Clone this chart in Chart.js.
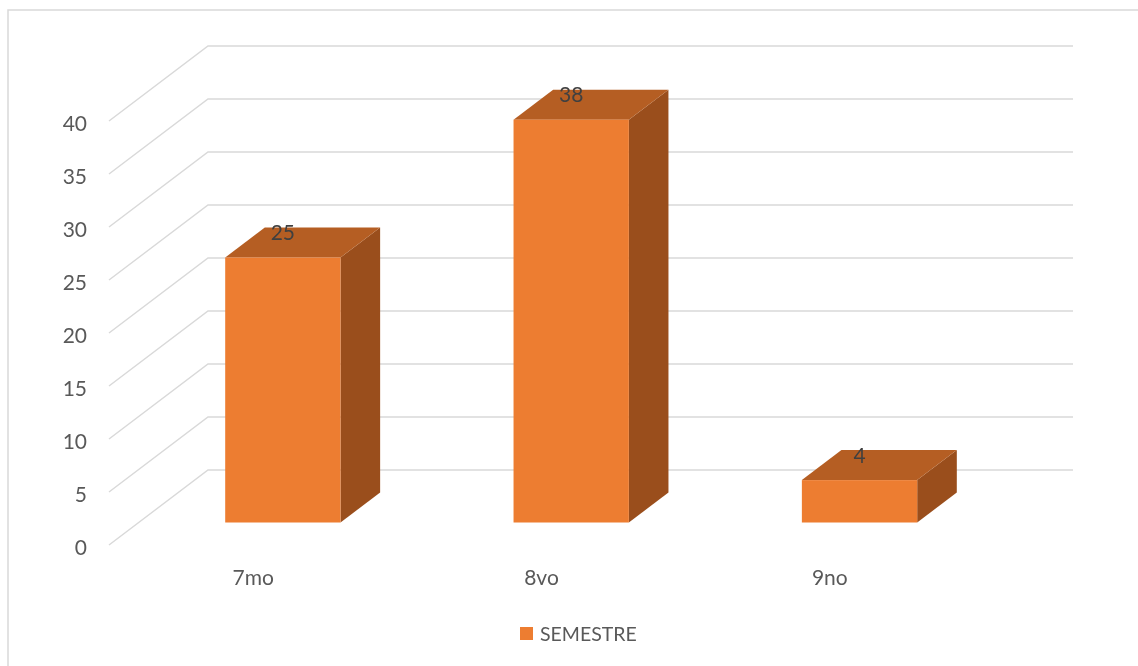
<!DOCTYPE html>
<html>
<head>
<meta charset="utf-8">
<script src="https://cdn.jsdelivr.net/npm/chart.js@4/dist/chart.umd.min.js"></script>
<style>
  html, body { margin: 0; padding: 0; background: #fff; }
  #wrap { width: 1138px; height: 666px; position: relative; }
</style>
</head>
<body>
<div id="wrap"><canvas id="chart"></canvas></div>
<script>
const categories = ['7mo', '8vo', '9no'];
const semestre = [25, 38, 4];
const seriesLabel = 'SEMESTRE';
const yTicks = [0, 5, 10, 15, 20, 25, 30, 35, 40];

const FRONT = '#ED7D31';
const TOP = '#B55E23';
const SIDE = '#9A4E1C';
const GRID = '#D9D9D9';
const TEXT = '#595959';

// depth offset of the back wall from the front edge of the floor
const DX = 99;
const DY = 75;
const FONT = 'Lato, "Open Sans", sans-serif';

const threeD = {
  id: 'threeD',
  beforeDraw(chart) {
    const { ctx } = chart;
    ctx.save();
    ctx.strokeStyle = GRID;
    ctx.lineWidth = 1.5;
    ctx.strokeRect(8, 10, 1200, 700);
    ctx.restore();
  },
  beforeDatasetsDraw(chart) {
    const { ctx, chartArea } = chart;
    const y = chart.scales.y;
    ctx.save();
    ctx.strokeStyle = GRID;
    ctx.lineWidth = 1.5;
    yTicks.forEach(v => {
      const py = y.getPixelForValue(v);
      ctx.beginPath();
      ctx.moveTo(chartArea.left, py);
      ctx.lineTo(chartArea.left + DX, py - DY);
      ctx.lineTo(chartArea.right + DX, py - DY);
      ctx.stroke();
    });

    const meta = chart.getDatasetMeta(0);
    const f0 = 0.3, f1 = 0.7;
    const base = y.getPixelForValue(0);
    meta.data.forEach((bar, i) => {
      const v = semestre[i];
      const top = y.getPixelForValue(v);
      const x0 = bar.x - bar.width / 2 + DX * f0;
      const x1 = bar.x + bar.width / 2 + DX * f0;
      const yt = top - DY * f0;
      const yb = base - DY * f0;
      const ddx = DX * (f1 - f0), ddy = DY * (f1 - f0);

      // side
      ctx.fillStyle = SIDE;
      ctx.beginPath();
      ctx.moveTo(x1, yt);
      ctx.lineTo(x1 + ddx, yt - ddy);
      ctx.lineTo(x1 + ddx, yb - ddy);
      ctx.lineTo(x1, yb);
      ctx.closePath();
      ctx.fill();
      // top
      ctx.fillStyle = TOP;
      ctx.beginPath();
      ctx.moveTo(x0, yt);
      ctx.lineTo(x0 + ddx, yt - ddy);
      ctx.lineTo(x1 + ddx, yt - ddy);
      ctx.lineTo(x1, yt);
      ctx.closePath();
      ctx.fill();
      // front
      ctx.fillStyle = FRONT;
      ctx.fillRect(x0, yt, x1 - x0, yb - yt);

      // value label
      ctx.fillStyle = '#404040';
      ctx.font = '21px ' + FONT;
      ctx.textAlign = 'center';
      ctx.textBaseline = 'middle';
      ctx.fillText(String(v), bar.x + DX * f0, top - DY * 0.5 - 9);
    });

    // legend
    const lx = 520, ly = 634;
    ctx.fillStyle = FRONT;
    ctx.fillRect(lx, ly - 7, 13, 13);
    ctx.fillStyle = TEXT;
    ctx.font = '19.5px ' + FONT;
    ctx.textAlign = 'left';
    ctx.textBaseline = 'middle';
    ctx.fillText(seriesLabel, lx + 20, ly + 1);
    ctx.restore();
    return false;
  }
};

new Chart(document.getElementById('chart'), {
  type: 'bar',
  data: {
    labels: categories,
    datasets: [{
      label: seriesLabel,
      data: semestre,
      backgroundColor: FRONT,
      categoryPercentage: 1,
      barPercentage: 0.4,
    }],
  },
  options: {
    responsive: true,
    maintainAspectRatio: false,
    animation: false,
    layout: { padding: { left: 0, top: 121, right: 164, bottom: 0 } },
    plugins: {
      legend: { display: false },
      tooltip: { enabled: false },
    },
    scales: {
      x: {
        grid: { display: false, drawTicks: false },
        border: { display: false },
        ticks: { color: TEXT, font: { family: FONT, size: 21 }, padding: 21, maxRotation: 0 },
        afterFit(scale) { scale.height = 121; },
      },
      y: {
        min: 0,
        max: 40,
        grid: { display: false, drawTicks: false },
        border: { display: false },
        ticks: { stepSize: 5, color: TEXT, font: { family: FONT, size: 21 }, padding: 22, labelOffset: 3 },
        afterFit(scale) { scale.width = 109; },
      },
    },
  },
  plugins: [threeD],
});
</script>
</body>
</html>
